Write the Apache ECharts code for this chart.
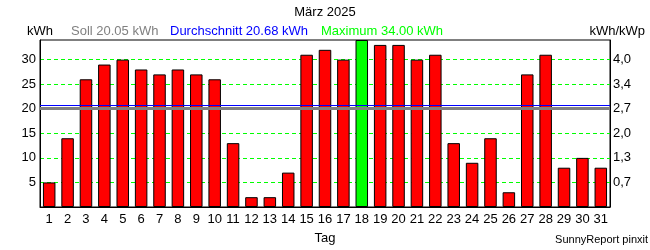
<!DOCTYPE html>
<html>
<head>
<meta charset="utf-8">
<script src="https://cdn.jsdelivr.net/npm/echarts@6/dist/echarts.min.js"></script>
<style>html,body{margin:0;padding:0;background:#fff}#c{width:650px;height:250px}</style>
</head>
<body>
<div id="c"></div>
<script>
const titleText = 'März 2025';
const days = ['1','2','3','4','5','6','7','8','9','10','11','12','13','14','15','16','17','18','19','20','21','22','23','24','25','26','27','28','29','30','31'];
const energy = [5,14,26,29,30,28,27,28,27,26,13,2,2,7,31,32,30,34,33,33,30,31,13,9,14,3,27,31,8,10,8];
const soll = 20.05;
const average = 20.68;
const maximum = 34.00;
const leftTicks = [5,10,15,20,25,30];
const rightTickLabels = ['0,7','1,3','2,0','2,7','3,4','4,0'];
const unitLeft = 'kWh';
const unitRight = 'kWh/kWp';
const xName = 'Tag';
const credit = 'SunnyReport pinxit';

const FONT = '"Liberation Sans", Arial, sans-serif';
const chart = echarts.init(document.getElementById('c'));

function leftFmt(v){ return leftTicks.indexOf(v) >= 0 ? String(v) : ''; }
function rightFmt(v){ const i = leftTicks.indexOf(v); return i >= 0 ? rightTickLabels[i] : ''; }

const splitLineStyle = {show:true, showMinLine:false, showMaxLine:false, lineStyle:{color:'#00ff00', type:[4,3], width:1}};

chart.setOption({
  animation:false,
  backgroundColor:'#ffffff',
  textStyle:{fontFamily:FONT},
  title:{text:titleText, left:'center', top:1, textStyle:{fontSize:13, fontWeight:'normal', color:'#000', fontFamily:FONT}},
  grid:{left:40, right:40, top:40, bottom:40, show:true, borderColor:'#000', borderWidth:1, backgroundColor:'#fff'},
  xAxis:{
    type:'category', data:days,
    axisLine:{show:true, lineStyle:{color:'#000', width:1}},
    axisTick:{show:false},
    axisLabel:{color:'#000', fontSize:13, margin:6, fontFamily:FONT, interval:0},
    name:xName, nameLocation:'middle', nameGap:25,
    nameTextStyle:{color:'#000', fontSize:13, fontFamily:FONT}
  },
  yAxis:[
    {type:'value', min:0, max:34, interval:5,
     axisLine:{show:true, lineStyle:{color:'#000'}}, axisTick:{show:false},
     axisLabel:{color:'#000', fontSize:13, margin:4, formatter:leftFmt, fontFamily:FONT, showMaxLabel:false},
     splitLine:splitLineStyle},
    {type:'value', min:0, max:34, interval:5, position:'right',
     axisLine:{show:true, lineStyle:{color:'#000'}}, axisTick:{show:false},
     axisLabel:{color:'#000', fontSize:13, margin:3, formatter:rightFmt, fontFamily:FONT, showMaxLabel:false},
     splitLine:{show:false}}
  ],
  series:[{
    type:'bar', data:energy, barWidth:'68%', yAxisIndex:0,
    itemStyle:{
      color:function(p){ return p.value === maximum ? '#00ff00' : '#ff0000'; },
      borderColor:'#000', borderWidth:1
    },
    markLine:{
      silent:true, symbol:'none', label:{show:false}, animation:false,
      data:[
        {yAxis:soll, lineStyle:{color:'#808080', width:3, type:'solid'}},
        {yAxis:average, lineStyle:{color:'#0000ff', width:1.2, type:'solid'}}
      ]
    }
  }],
  graphic:[
    {type:'text', left:27, top:25, style:{text:unitLeft, fill:'#000', font:'13px '+FONT}},
    {type:'text', left:71, top:25, style:{text:'Soll '+soll.toFixed(2)+' kWh', fill:'#808080', font:'13px '+FONT}},
    {type:'text', left:170, top:25, style:{text:'Durchschnitt '+average.toFixed(2)+' kWh', fill:'#0000ff', font:'13px '+FONT}},
    {type:'text', left:321, top:25, style:{text:'Maximum '+maximum.toFixed(2)+' kWh', fill:'#00ff00', font:'13px '+FONT}},
    {type:'text', right:5, top:25, style:{text:unitRight, fill:'#000', font:'13px '+FONT}},
    {type:'text', right:2, top:234, style:{text:credit, fill:'#000', font:'11px '+FONT}}
  ]
});
</script>
</body>
</html>
